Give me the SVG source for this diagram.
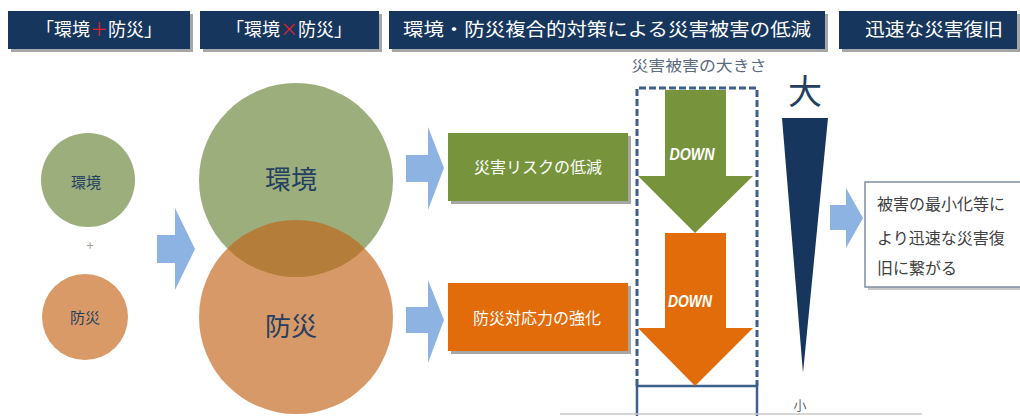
<svg xmlns="http://www.w3.org/2000/svg" width="1020" height="416" viewBox="0 0 1020 416">
<style>
.hdr{fill:#17365d}
.sh{fill:#a6a6a6}
.ht{font-family:"Noto Sans CJK JP","Noto Sans",sans-serif;font-size:18px;fill:#ffffff;text-anchor:middle}
.red{fill:#e0202a}
.jp{font-family:"Noto Sans CJK JP","Noto Sans",sans-serif}
.nv{fill:#243f60}
.wt{fill:#ffffff}
.bl{fill:#8db3e2}
.dn{font-family:"Liberation Sans",Arial,sans-serif;font-weight:bold;font-style:italic;font-size:16px;fill:#ffffff;text-anchor:middle}
</style>
<rect width="1020" height="416" fill="#ffffff"/>
<g id="header1">
<rect class="sh" x="11" y="14" width="182" height="38"/>
<rect class="hdr" x="8" y="11" width="182" height="38"/>
<text class="ht" x="99" y="36">「環境<tspan class="red">＋</tspan>防災」</text>
</g>
<g id="header2">
<rect class="sh" x="203" y="14" width="179" height="38"/>
<rect class="hdr" x="200" y="11" width="179" height="38"/>
<text class="ht" x="289" y="36">「環境<tspan class="red">×</tspan>防災」</text>
</g>
<g id="header3">
<rect class="sh" x="392" y="14" width="436" height="38"/>
<rect class="hdr" x="389" y="11" width="436" height="38"/>
<text class="ht" x="607" y="36" textLength="408" lengthAdjust="spacingAndGlyphs">環境・防災複合的対策による災害被害の低減</text>
</g>
<g id="header4">
<rect class="sh" x="842" y="14" width="178" height="38"/>
<rect class="hdr" x="839" y="11" width="178" height="38"/>
<text class="ht" x="934" y="36" textLength="138" lengthAdjust="spacingAndGlyphs">迅速な災害復旧</text>
</g>
<g id="small-env">
<circle cx="88" cy="180" r="47" fill="#9bae7c"/>
<text class="jp nv" x="86" y="188" font-size="15" text-anchor="middle">環境</text>
</g>
<text class="jp" x="90" y="250" font-size="13" fill="#a0a0a0" text-anchor="middle">+</text>
<g id="small-dis">
<circle cx="85" cy="317" r="43" fill="#d99a68"/>
<text class="jp nv" x="85" y="323" font-size="15" text-anchor="middle">防災</text>
</g>
<g id="big-env">
<circle cx="296" cy="180" r="97" fill="#9bae7c"/>
<text class="jp nv" x="291" y="189" font-size="26" text-anchor="middle">環境</text>
</g>
<g id="big-dis">
<circle cx="296" cy="317" r="97" fill="#c36217" fill-opacity="0.65"/>
<text class="jp nv" x="291" y="336" font-size="26" text-anchor="middle">防災</text>
</g>
<g id="connectors">
<polygon class="bl" points="157,235 175,235 175,208 195,249 175,290 175,263 157,263"/>
<polygon class="bl" points="406,155 428,155 428,127 444,168 428,210 428,182 406,182"/>
<polygon class="bl" points="406,307 428,307 428,280 444,320 428,363 428,333 406,333"/>
<polygon class="bl" points="830,205 846,205 846,188 863,218 846,248 846,230 830,230"/>
</g>
<g id="risk-box">
<rect x="451" y="136" width="180" height="68" fill="#a6a6a6"/>
<rect x="448" y="133" width="180" height="68" fill="#77933c"/>
<text class="jp wt" x="538" y="173" font-size="16" text-anchor="middle">災害リスクの低減</text>
</g>
<g id="resp-box">
<rect x="451" y="286" width="180" height="68" fill="#a6a6a6"/>
<rect x="448" y="283" width="180" height="68" fill="#e36c0a"/>
<text class="jp wt" x="537" y="324" font-size="16" text-anchor="middle">防災対応力の強化</text>
</g>
<g id="scale">
<text class="jp" x="699" y="71" font-size="15" fill="#5a6a80" text-anchor="middle" textLength="135" lengthAdjust="spacingAndGlyphs">災害被害の大きさ</text>
<path d="M637,386 V88 H757 V386" fill="none" stroke="#3c5f8c" stroke-width="3" stroke-dasharray="7,3"/>
<path d="M637,416 V386 H757 V416" fill="none" stroke="#3c5f8c" stroke-width="2.5"/>
</g>
<g id="down1">
<polygon points="665,90 726,90 726,176 753,176 695,233 638,176 665,176" fill="#77933c"/>
<text class="dn" x="692" y="160" textLength="45" lengthAdjust="spacingAndGlyphs">DOWN</text>
</g>
<g id="down2">
<polygon points="665,233 726,233 726,328 753,328 695,386 638,328 665,328" fill="#e36c0a"/>
<text class="dn" x="690" y="307" textLength="44" lengthAdjust="spacingAndGlyphs">DOWN</text>
</g>
<g id="magnitude">
<text class="jp" x="805" y="104" font-size="34" fill="#243f60" text-anchor="middle">大</text>
<polygon points="782,118 828,118 803,373" fill="#17365d"/>
<text class="jp" x="800" y="410" font-size="13" fill="#6a6a6a" text-anchor="middle">小</text>
</g>
<g id="result-box">
<rect x="868" y="185" width="155" height="105" fill="#c8c8c8"/>
<rect x="865" y="182" width="160" height="105" fill="#ffffff" stroke="#7f8ea3" stroke-width="1.5"/>
<text class="jp" font-size="16" fill="#404040">
<tspan x="877" y="210">被害の最小化等に</tspan>
<tspan x="877" y="244">より迅速な災害復</tspan>
<tspan x="877" y="274">旧に繋がる</tspan>
</text>
</g>
<line x1="560" y1="414" x2="922" y2="414" stroke="#c8c8cc" stroke-width="1.5"/>
</svg>
